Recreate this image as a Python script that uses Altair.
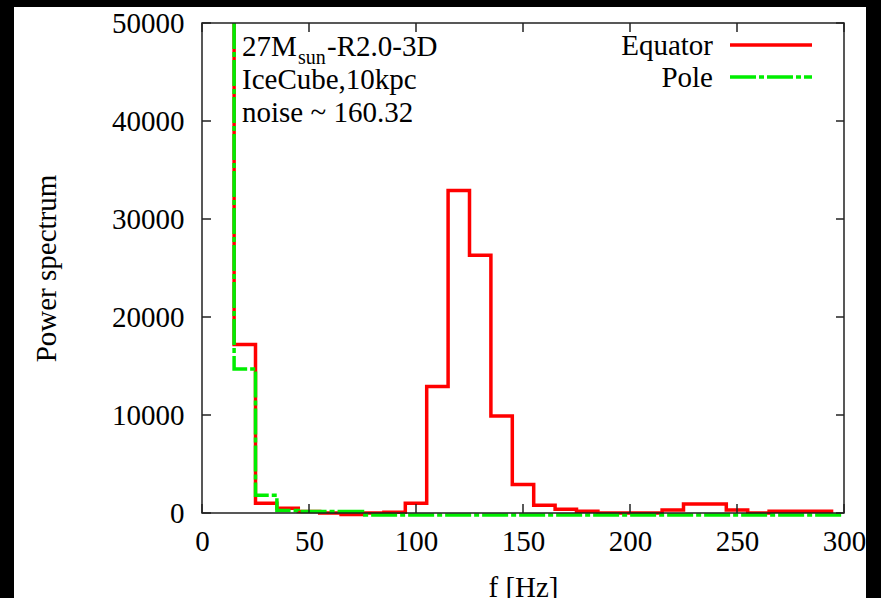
import altair as alt
import pandas as pd

# ---------------- data ----------------
# step histogram, 10 Hz bins; value belongs to the bin ENDING at the edge
start_edge = 15          # left edge of first visible bin
off_scale = 50000        # bin below 15 Hz is off the top of the plot

red_edges = [25, 35, 45, 55, 65, 75, 85, 95, 105, 115, 125, 135, 145, 155,
             165, 175, 185, 195, 205, 215, 225, 235, 245, 255, 265, 275, 285, 295]
red_power = [17200, 1000, 480, 150, 0, -150, 0, 80, 1000, 12900, 32900, 26300,
             9900, 2900, 780, 380, 180, 0, 0, 0, 300, 920, 920, 300, 0, 180, 180, 180]

green_edges = [25, 35, 45, 55, 65, 75, 85, 95, 105, 115, 125, 135, 145, 155,
               165, 175, 185, 195, 205, 215, 225, 235, 245, 255, 265, 275, 285, 295, 300]
green_power = [14700, 1800, 250, 150, 150, 150, -200, -200, -200, -200, -200, -200,
               -200, -200, -200, -200, -200, -200, -200, -200, -200, -200, -200,
               -200, -200, -200, -200, -200, -200]

x_ticks = [0, 50, 100, 150, 200, 250, 300]
y_ticks = [0, 10000, 20000, 30000, 40000, 50000]

series_names = ["Equator", "Pole"]
annot_lines = ["IceCube,10kpc", "noise ~ 160.32"]
model_main, model_sub, model_tail = "27M", "sun", "-R2.0-3D"

# ---------------- style ----------------
FONT = "Liberation Serif"
FS = 29
W, H = 642, 490
RED = "#ff0000"
GREEN = "#00ee00"
DASH = [26, 3, 5, 3]

xs = alt.Scale(domain=[0, 300], nice=False, zero=False)
ys = alt.Scale(domain=[0, 50000], nice=False, zero=False)

red_df = pd.DataFrame({"f": [start_edge] + red_edges, "p": [off_scale] + red_power})
green_df = pd.DataFrame({"f": [start_edge] + green_edges, "p": [off_scale] + green_power})
xt = pd.DataFrame({"f": x_ticks})
yt = pd.DataFrame({"p": y_ticks})
one = alt.Data(values=[{"a": 1}])

x_axis = alt.Axis(values=x_ticks, format="d", title="f [Hz]", domain=False, ticks=False, tickSize=0,
                  grid=False, labelFlush=False, labelOverlap=False, labelPadding=14,
                  labelFont=FONT, labelFontSize=FS, labelColor="black",
                  titleFont=FONT, titleFontSize=FS, titleFontWeight="normal", titleColor="black",
                  titleX=321, titleY=83, titleBaseline="alphabetic", titleAlign="center",
                  zindex=2)
y_axis = alt.Axis(values=y_ticks, format="d", title="Power spectrum", domain=False, ticks=False,
                  tickSize=0, grid=False, labelOverlap=False, labelPadding=18, labelFlush=False,
                  labelFont=FONT, labelFontSize=FS, labelColor="black",
                  titleFont=FONT, titleFontSize=FS, titleFontWeight="normal", titleColor="black",
                  titleX=-147, titleY=245, titleAngle=270, titleBaseline="alphabetic",
                  titleAlign="center", zindex=2)

X = alt.X("f:Q", scale=xs, axis=x_axis)
Y = alt.Y("p:Q", scale=ys, axis=y_axis)

# white page area (black border of the scanned figure around it)
page = alt.Chart(one).mark_rect(color="white", clip=False).encode(
    x=alt.value(-188), x2=alt.value(664), y=alt.value(-16), y2=alt.value(575)
)

frame = alt.Chart(one).mark_rect(filled=False, stroke="#222", strokeWidth=1.5).encode(
    x=alt.value(0), x2=alt.value(W), y=alt.value(0), y2=alt.value(H)
)

tick_style = dict(color="#222", strokeWidth=1.5)
xtick_b = alt.Chart(xt).mark_rule(**tick_style).encode(
    x=X, y=alt.value(H), y2=alt.value(H - 9))
xtick_t = alt.Chart(xt).mark_rule(**tick_style).encode(
    x=X, y=alt.value(0), y2=alt.value(9))
ytick_l = alt.Chart(yt).mark_rule(**tick_style).encode(
    y=Y, x=alt.value(0), x2=alt.value(9))
ytick_r = alt.Chart(yt).mark_rule(**tick_style).encode(
    y=Y, x=alt.value(W), x2=alt.value(W - 8))

red_line = alt.Chart(red_df).mark_line(
    color=RED, strokeWidth=3.5, interpolate="step-before", strokeJoin="miter", strokeCap="butt"
).encode(x=X, y=Y)

green_line = alt.Chart(green_df).mark_line(
    color=GREEN, strokeWidth=3.5, interpolate="step-before", strokeDash=DASH,
    strokeJoin="miter", strokeCap="butt"
).encode(x=X, y=Y)


def txt(s, x, y, size=FS, align="left"):
    return alt.Chart(one).mark_text(
        text=s, font=FONT, fontSize=size, align=align, baseline="alphabetic", color="black"
    ).encode(x=alt.value(x), y=alt.value(y))


annots = [
    txt(model_main, 40, 33),
    txt(model_sub, 96, 41, size=20),
    txt(model_tail, 125, 33),
    txt(annot_lines[0], 40, 66),
    txt(annot_lines[1], 40, 99),
]

legend = [
    txt(series_names[0], 511, 32, align="right"),
    txt(series_names[1], 511, 64, align="right"),
    alt.Chart(one).mark_rule(color=RED, strokeWidth=3.5).encode(
        x=alt.value(528), x2=alt.value(610), y=alt.value(22)),
    alt.Chart(one).mark_rule(color=GREEN, strokeWidth=3.5, strokeDash=DASH).encode(
        x=alt.value(528), x2=alt.value(610), y=alt.value(54)),
]

chart = alt.layer(
    page, red_line, green_line, frame, xtick_b, xtick_t, ytick_l, ytick_r, *annots, *legend
).properties(
    width=W, height=H,
    autosize=alt.AutoSizeParams(type="none"),
    padding={"left": 202, "top": 23, "right": 37, "bottom": 85},
    background="black",
).configure_view(stroke=None)

chart.save("out.html", embed_options={"renderer": "svg", "actions": False})
